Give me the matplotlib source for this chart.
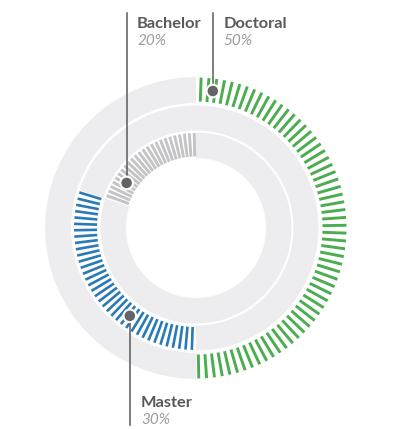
import matplotlib.pyplot as plt
import numpy as np
from matplotlib.patches import Wedge, Circle
from matplotlib.collections import LineCollection

# data
labels = ['Bachelor', 'Master', 'Doctoral']
shares = [20, 30, 50]
pct_text = ['20%', '30%', '50%']
colors = ['#c4c4c6', '#2a7ab5', '#4bad4f']
# each share sits on its own ring, stacked counter-clockwise from 12 o'clock
# ring radii (inner, outer) for Bachelor, Master, Doctoral
rings = [(70, 95.5), (97.5, 122.5), (125, 151)]
# where the marker dot sits on each ring (degrees)
dot_angle = [147, 233, 83]

TICKS_PER_CIRCLE = 120
step = 360 / TICKS_PER_CIRCLE
grey = '#ededef'

fig = plt.figure(figsize=(3.98, 4.29), dpi=100)
ax = fig.add_axes([0, 0, 1, 1])
ax.set_xlim(-196, 202)
ax.set_ylim(-201, 228)
ax.set_aspect('equal')
ax.axis('off')

start = 90.0
for i, (lab, s) in enumerate(zip(labels, shares)):
    r_in, r_out = rings[i]
    span = s / 100 * 360
    end = start + span
    # grey background for the part of the ring that is not filled
    ax.add_patch(Wedge((0, 0), r_out, end, start + 360, width=r_out - r_in,
                       facecolor=grey, edgecolor='none'))
    # radial ticks for the filled part
    n = int(round(span / step))
    ang = np.radians(start + (np.arange(n) + 0.35) * step)
    segs = [[(r_in + 1.5) * np.array([np.cos(a), np.sin(a)]),
             (r_out - 0.5) * np.array([np.cos(a), np.sin(a)])] for a in ang]
    lw = 2.1 if i != 1 else 1.9
    ax.add_collection(LineCollection(segs, colors=colors[i], linewidths=lw,
                                     capstyle='butt'))
    start = end

# leader lines, dots and labels
line_col = '#5a5a5c'
for i, lab in enumerate(labels):
    r_in, r_out = rings[i]
    rm = (r_in + r_out) / 2
    a = np.radians(dot_angle[i])
    x, y = rm * np.cos(a), rm * np.sin(a)
    if lab == 'Master':
        ax.plot([x, x], [y, -197], color=line_col, lw=1.1, zorder=4)
        tx, ty1, ty2 = x + 11, -179, -196
    else:
        ax.plot([x, x], [y, 215], color=line_col, lw=1.1, zorder=4)
        tx, ty1, ty2 = x + 10.5, 200, 183
    ax.add_patch(Circle((x, y), 6.3, facecolor='#646466', edgecolor='white',
                        lw=1.5, zorder=5))
    ax.text(tx, ty1, lab, family=['Lato', 'DejaVu Sans'], fontweight='bold',
            fontsize=11.8, color='#58595b', va='baseline', ha='left')
    ax.text(tx, ty2, pct_text[i], family=['Lato', 'DejaVu Sans'],
            fontstyle='italic', fontweight='normal', fontsize=11,
            color='#9c9c9e', va='baseline', ha='left')

fig.savefig('out.png', dpi=100, facecolor='white')
